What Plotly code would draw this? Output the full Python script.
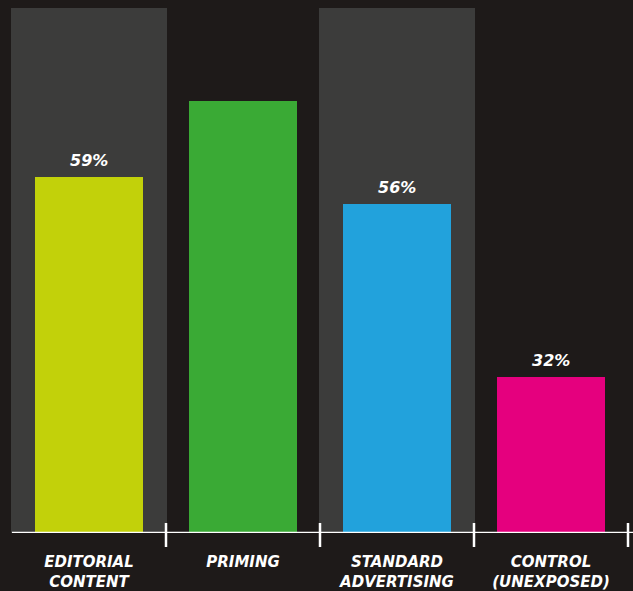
import plotly.graph_objects as go

categories = ["EDITORIAL<br>CONTENT", "PRIMING", "STANDARD<br>ADVERTISING", "CONTROL<br>(UNEXPOSED)"]
# bar heights as drawn (scale: grey column = 100)
bar_heights = [67.8, 82.3, 62.7, 29.7]
value_labels = ["59%", "", "56%", "32%"]
backdrop = [100, None, 100, None]
bar_colors = ["#c2d10a", "#3aaa35", "#22a2dc", "#e5007e"]

BG = "#1e1a19"
GREY = "#3c3c3b"
FONT = "DejaVu Sans"

fig = go.Figure()
fig.add_trace(go.Bar(x=categories, y=backdrop, width=1.013, marker=dict(color=GREY, line_width=0),
                     hoverinfo="skip", showlegend=False))
fig.add_trace(go.Bar(x=categories, y=bar_heights, width=0.695,
                     marker=dict(color=bar_colors, line_width=0), showlegend=False))

for c, h, t in zip(categories, bar_heights, value_labels):
    if t:
        fig.add_annotation(x=c, y=h, text=t, showarrow=False, yanchor="bottom", yshift=5,
                           font=dict(family=FONT, size=16, color="white", weight="bold", style="italic"))

n = len(categories)
# axis baseline
fig.add_shape(type="line", xref="x", yref="y", x0=-0.5, x1=n, y0=0, y1=0,
              line=dict(color="white", width=2.5))
# separators
for i in range(n):
    fig.add_shape(type="line", xref="x", yref="paper", x0=i + 0.5, x1=i + 0.5,
                  y0=-14 / 533, y1=10 / 533, line=dict(color="white", width=2.5))

fig.update_layout(
    width=633, height=591,
    margin=dict(l=0, r=0, t=0, b=58),
    paper_bgcolor=BG, plot_bgcolor=BG,
    barmode="overlay", bargap=0,
    xaxis=dict(range=[-89 / 154, (633 - 89) / 154], showgrid=False, zeroline=False,
               showline=False, ticks="", ticklabelstandoff=18,
               tickfont=dict(family=FONT, size=15, color="white", weight="bold", style="italic")),
    yaxis=dict(range=[0, 100 * 533 / 525], visible=False, showgrid=False, zeroline=False),
)

fig.write_html("out.html")
